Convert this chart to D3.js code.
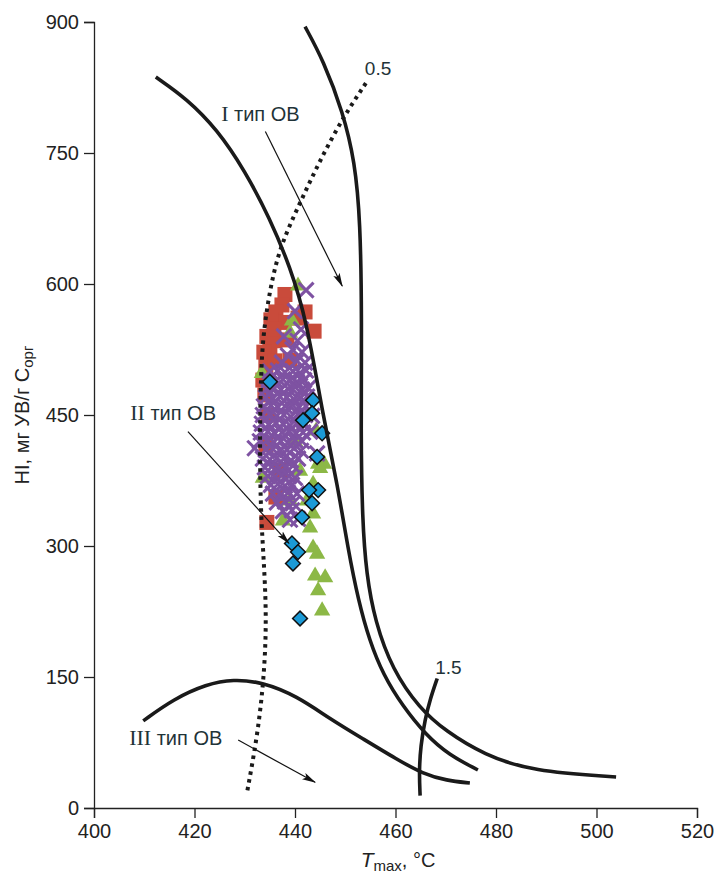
<!DOCTYPE html>
<html><head><meta charset="utf-8">
<script src="https://cdn.jsdelivr.net/npm/d3@7"></script>
<style>body{margin:0;background:#fff}</style>
</head><body><svg id="c" width="716" height="877"></svg>
<script>
// ---- data ----
const xTicks = [400, 420, 440, 460, 480, 500, 520];
const yTicks = [0, 150, 300, 450, 600, 750, 900];

// boundary curves [Tmax, HI]
const curveTypeII = [[412.3,837],[418.5,812],[424.5,777],[430.0,730],[435.0,675],[439.0,620],[442.3,559],[445.6,448],[448.4,372],[450.6,295],[452.6,238],[454.8,192],[457.6,152],[461.4,117],[466.0,84],[470.6,61],[476.4,43.5]];
const curveTypeI = [[442.0,894.6],[445.6,856.5],[449.6,796],[451.9,740],[453.0,673],[453.3,559],[453.1,429],[453.4,330],[454.2,268],[455.9,214],[459.4,158],[464.8,114],[470.0,88],[477.6,61],[487.2,42],[503.9,35.5]];
const curveTypeIII = [[409.8,99.8],[415.8,124.7],[422.4,141.8],[427.7,147.5],[433.6,144],[440.3,128.4],[447.0,102],[453.6,79],[460.2,56],[465.5,39],[470.2,31.4],[474.8,28.6]];
const curveRo15 = [[468.3,148.3],[466.9,124.7],[465.9,101.8],[465.0,71.2],[464.7,41.2],[464.9,14.1]];
const curveRo05 = [[454.1,830],[449.6,791],[445.0,742],[441.0,693],[437.0,643],[435.0,594],[433.6,540],[433.2,490],[433.0,433],[433.1,353],[433.6,300],[434.2,240],[434.2,190],[433.6,136],[432.4,79],[430.4,16]];

// arrows [from, to]
const arrows = [
  [[434.1,774.6],[449.4,597.7]],
  [[418.7,431],[438.8,303]],
  [[428.7,77.8],[444.0,29.4]]
];
// labels
const typeLabels = [
  {num:"I", text:" тип ОВ", x:425.3, y:786.6},
  {num:"II", text:" тип ОВ", x:407.2, y:444},
  {num:"III", text:" тип ОВ", x:407.0, y:72}
];
const roLabels = [{text:"0.5", x:453.9, y:839},{text:"1.5", x:467.9, y:154}];

// samples
const redSquares = [[438.0,588],[437.4,576],[436.2,568],[437.8,556],[435.2,559],[434.4,540],[435.0,524],[436.0,535],[435.8,548],[433.8,522],[434.2,506],[436.0,512],[440.6,561],[442.0,568],[443.8,546],[438.4,536],[434.0,473],[433.6,490],[434.6,450],[434.2,416],[437.0,387],[436.2,356],[434.4,327],[439.0,513]];
const greenTriangles = [[440.6,599],[439.4,559],[439.0,545],[444.2,433],[444.6,395],[445.8,395],[445.0,390],[443.6,372],[442.4,353],[443.6,338],[437.6,330],[443.0,322],[443.6,299],[444.4,292],[444.0,267],[446.0,265],[444.6,250],[445.4,227],[433.6,379],[433.4,499],[440.0,421],[441.0,387],[439.0,353]];
const purpleCrosses = [
 [442.2,593],[440.0,569],[441.2,548],[437.8,540],[440.5,535],[439.5,525],[441.4,522],[438.6,518],[440.4,512],[442.0,510],[437.4,510],
 [435.0,500],[436.6,501],[438.0,499],[439.6,500],[441.0,498],[442.2,501],
 [434.8,490],[436.2,489],[437.6,491],[439.0,490],[440.4,488],[441.8,490],
 [434.4,480],[435.8,481],[437.2,479],[438.6,480],[440.0,482],[441.4,479],[442.6,481],
 [434.2,470],[435.6,469],[437.0,471],[438.4,470],[439.8,468],[441.2,470],[442.4,471],
 [433.8,460],[435.2,461],[436.6,459],[438.0,460],[439.4,462],[440.8,459],[442.2,460],
 [433.6,450],[435.0,451],[436.4,449],[437.8,450],[439.2,448],[440.6,451],[442.0,450],[443.4,449],
 [433.4,440],[434.8,439],[436.2,441],[437.6,440],[439.0,438],[440.4,440],[441.8,441],
 [433.2,430],[434.6,431],[436.0,429],[437.4,430],[438.8,432],[440.2,429],[441.6,430],[443.0,431],
 [433.0,420],[434.4,421],[435.8,419],[437.2,420],[438.6,418],[440.0,421],[441.4,420],
 [432.0,412],[434.2,410],[435.6,411],[437.0,409],[438.4,410],[439.8,412],[441.2,409],[444.4,406],
 [433.6,400],[435.0,399],[436.4,401],[437.8,400],[439.2,398],[440.6,400],
 [434.0,390],[435.4,391],[436.8,389],[438.2,390],[439.6,392],
 [434.6,380],[436.0,379],[437.4,381],[438.8,380],[440.0,378],
 [435.2,370],[436.6,371],[438.0,369],[439.4,370],
 [435.6,360],[437.2,359],[438.6,361],[440.4,360],
 [436.4,350],[438.0,351],[439.6,349],
 [437.6,340],[439.4,341],[439.0,330],[440.6,331]
];
const blueDiamonds = [[443.6,467],[443.4,452],[445.4,429],[444.4,402],[444.6,364],[442.8,364],[443.4,349],[441.4,333],[439.4,303],[440.6,293],[439.6,280],[441.0,217],[435.0,488],[441.6,444]];

// ---- chart ----
const svg = d3.select("#c");
const x = d3.scaleLinear().domain([400,520]).range([94,697]);
const y = d3.scaleLinear().domain([0,900]).range([808,22]);
const ink = "#1a1a1a", txt = "#1f3338";

// axes
const gx = svg.append("g").attr("transform",`translate(0,${y(0)})`)
  .call(d3.axisBottom(x).tickValues(xTicks).tickSize(10).tickPadding(6).tickFormat(d3.format("d")));
const gy = svg.append("g").attr("transform",`translate(${x(400)},0)`)
  .call(d3.axisLeft(y).tickValues(yTicks).tickSize(10).tickPadding(5).tickFormat(d3.format("d")));
[gx,gy].forEach(g=>{
  g.select(".domain").attr("stroke","#222").attr("stroke-width",1.3);
  g.selectAll(".tick line").attr("stroke","#222").attr("stroke-width",1.3);
  g.selectAll(".tick text").attr("font-family","Liberation Sans, Arial, sans-serif").attr("font-size",20).attr("fill","#222");
});

// samples
const sx = d=>x(d[0]), sy = d=>y(d[1]);
svg.append("g").selectAll("rect").data(redSquares).join("rect")
  .attr("x",d=>sx(d)-7.5).attr("y",d=>sy(d)-7.5).attr("width",15).attr("height",15).attr("fill","#c94b3b");
svg.append("g").selectAll("path").data(greenTriangles).join("path")
  .attr("d",d3.symbol(d3.symbolTriangle,115)).attr("transform",d=>`translate(${sx(d)},${sy(d)+1})`).attr("fill","#8cb846");
svg.append("g").selectAll("path").data(purpleCrosses).join("path")
  .attr("d","M-7.5,-7.5L7.5,7.5M-7.5,7.5L7.5,-7.5").attr("transform",d=>`translate(${sx(d)},${sy(d)})`)
  .attr("stroke","#7e52a2").attr("stroke-width",3).attr("fill","none");
svg.append("g").selectAll("path").data(blueDiamonds).join("path")
  .attr("d",d3.symbol(d3.symbolSquare,110)).attr("transform",d=>`translate(${sx(d)},${sy(d)}) rotate(45)`)
  .attr("fill","#1b9ad6").attr("stroke","#111").attr("stroke-width",1.5);

// curves
const line = d3.line().x(d=>x(d[0])).y(d=>y(d[1])).curve(d3.curveBasis);
[curveTypeII, curveTypeI, curveTypeIII, curveRo15].forEach(c=>{
  svg.append("path").datum(c).attr("d",line).attr("fill","none").attr("stroke",ink).attr("stroke-width",3.6).attr("stroke-linecap","butt");
});
svg.append("path").datum(curveRo05).attr("d",line).attr("fill","none").attr("stroke",ink)
  .attr("stroke-width",4).attr("stroke-dasharray","3.5,4.5");

// arrows
svg.append("defs").append("marker").attr("id","ah").attr("markerUnits","userSpaceOnUse")
  .attr("viewBox","0 0 14 8").attr("refX",13).attr("refY",4).attr("markerWidth",14).attr("markerHeight",8).attr("orient","auto")
  .append("path").attr("d","M0,0.5L14,4L0,7.5L3,4Z").attr("fill","#111");
svg.append("g").selectAll("line").data(arrows).join("line")
  .attr("x1",d=>x(d[0][0])).attr("y1",d=>y(d[0][1])).attr("x2",d=>x(d[1][0])).attr("y2",d=>y(d[1][1]))
  .attr("stroke","#111").attr("stroke-width",1.2).attr("marker-end","url(#ah)");

// labels
const tl = svg.append("g").selectAll("text").data(typeLabels).join("text")
  .attr("x",d=>x(d.x)).attr("y",d=>y(d.y)).attr("fill",txt).attr("font-size",20);
tl.append("tspan").attr("font-family","Liberation Serif, Times New Roman, serif").attr("font-size",22).text(d=>d.num);
tl.append("tspan").attr("font-family","Liberation Sans, Arial, sans-serif").text(d=>d.text);
svg.append("g").selectAll("text").data(roLabels).join("text")
  .attr("x",d=>x(d.x)).attr("y",d=>y(d.y)).attr("fill",txt).attr("font-size",19)
  .attr("font-family","Liberation Sans, Arial, sans-serif").text(d=>d.text);

// axis titles
const xt = svg.append("text").attr("x",398).attr("y",867).attr("text-anchor","middle")
  .attr("font-family","Liberation Sans, Arial, sans-serif").attr("font-size",20).attr("fill","#222");
xt.append("tspan").attr("font-style","italic").attr("font-size",21).text("T");
xt.append("tspan").attr("font-size",15).attr("dy",4).text("max");
xt.append("tspan").attr("dy",-4).text(", °C");
const yt = svg.append("text").attr("transform","translate(29,415) rotate(-90)").attr("text-anchor","middle")
  .attr("font-family","Liberation Sans Narrow, Liberation Sans, Arial, sans-serif").attr("font-size",20).attr("fill","#222");
yt.append("tspan").text("HI, мг УВ/г C");
yt.append("tspan").attr("font-size",15).attr("dy",4).text("орг");
</script></body></html>
